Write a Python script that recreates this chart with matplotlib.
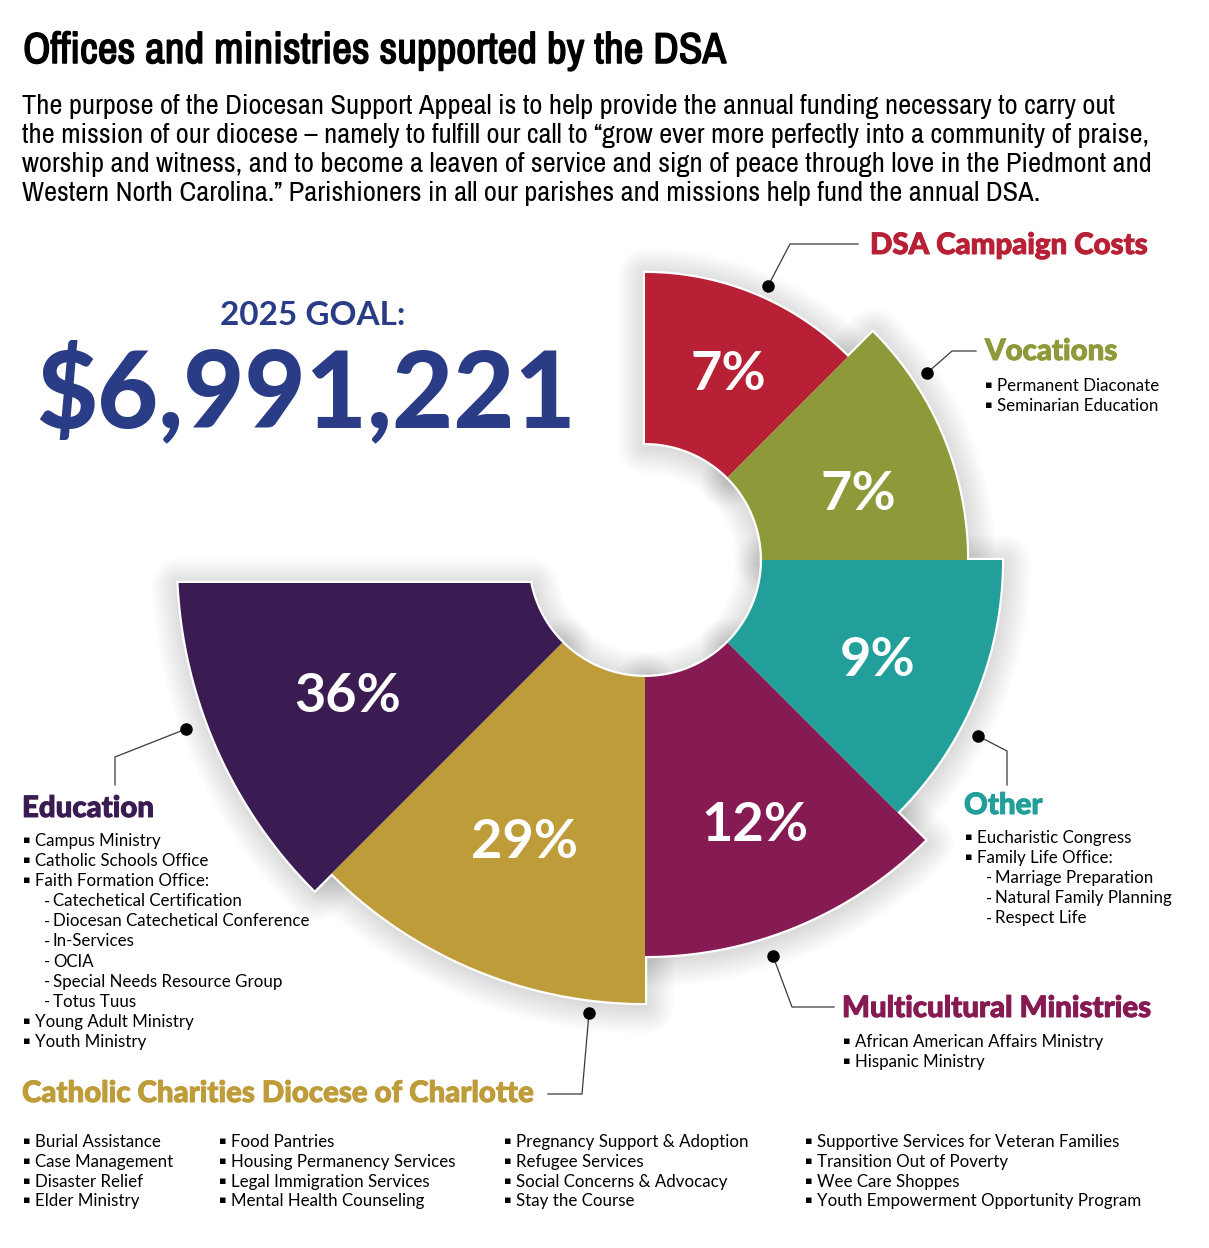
import numpy as np
import matplotlib
matplotlib.use('Agg')
import matplotlib.pyplot as plt
import matplotlib.patheffects as pe
from matplotlib.patches import Polygon
from matplotlib import font_manager as fm

W, H = 1209, 1248

# ---- data: slices clockwise from 12 o'clock ----
categories = ['DSA Campaign Costs', 'Vocations', 'Other', 'Multicultural Ministries',
              'Catholic Charities Diocese of Charlotte', 'Education']
shares = [7, 7, 9, 12, 29, 36]
outer_r = [287, 322, 357, 396, 443, 467]      # outer radius of each slice (px)
colors = ['#B82035', '#8E993A', '#239F9B', '#861A52', '#BF9C3A', '#3A1C53']

goal_year = 2025
goal_amount = 6991221

title = 'Offices and ministries supported by the DSA'
intro = ['The purpose of the Diocesan Support Appeal is to help provide the annual funding necessary to carry out',
         'the mission of our diocese \u2013 namely to fulfill our call to \u201cgrow ever more perfectly into a community of praise,',
         'worship and witness, and to become a leaven of service and sign of peace through love in the Piedmont and',
         'Western North Carolina.\u201d Parishioners in all our parishes and missions help fund the annual DSA.']

# (level, text): level 0 = bullet, level 1 = dash sub-item
vocations_items = [(0, 'Permanent Diaconate'), (0, 'Seminarian Education')]
other_items = [(0, 'Eucharistic Congress'), (0, 'Family Life Office:'),
               (1, 'Marriage Preparation'), (1, 'Natural Family Planning'), (1, 'Respect Life')]
multi_items = [(0, 'African American Affairs Ministry'), (0, 'Hispanic Ministry')]
edu_items = [(0, 'Campus Ministry'), (0, 'Catholic Schools Office'), (0, 'Faith Formation Office:'),
             (1, 'Catechetical Certification'), (1, 'Diocesan Catechetical Conference'),
             (1, 'In-Services'), (1, 'OCIA'), (1, 'Special Needs Resource Group'), (1, 'Totus Tuus'),
             (0, 'Young Adult Ministry'), (0, 'Youth Ministry')]
charities_cols = [['Burial Assistance', 'Case Management', 'Disaster Relief', 'Elder Ministry'],
                  ['Food Pantries', 'Housing Permanency Services', 'Legal Immigration Services',
                   'Mental Health Counseling'],
                  ['Pregnancy Support & Adoption', 'Refugee Services', 'Social Concerns & Advocacy',
                   'Stay the Course'],
                  ['Supportive Services for Veteran Families', 'Transition Out of Poverty',
                   'Wee Care Shoppes', 'Youth Empowerment Opportunity Program']]

# ---- layout ----
cx, cy = 645, 560        # ring centre (px, y down)
r_in = 117
span = 45                # each slice covers 45 degrees, 270 in total
edu_cut = 23             # education slice top edge sits a bit below the centre line
label_ang = [65.8, 17.2, -23.3, -67.5, -113.0, -155.3]
label_rad = [203, 223, 253, 287, 307, 327]

# condensed face for title / intro, if one is installed
NARROW = {'family': ['Liberation Sans', 'DejaVu Sans']}
for f in fm.fontManager.ttflist:
    if 'narrow' in f.name.lower() or 'condensed' in f.name.lower():
        NARROW = {'family': [f.name, 'DejaVu Sans']}
        break
BODY = ['Lato', 'DejaVu Sans']
HEAVY = ['Lato Black', 'Lato Heavy', 'Lato', 'DejaVu Sans']

fig = plt.figure(figsize=(W / 100, H / 100), dpi=100)
ax = fig.add_axes([0, 0, 1, 1])
ax.set_xlim(0, W)
ax.set_ylim(H, 0)
ax.axis('off')
rend = fig.canvas.get_renderer()


def fit_size(txt, target_w, size, **kw):
    t = ax.text(0, 0, txt, fontsize=size, **kw)
    w = t.get_window_extent(renderer=rend).width
    t.remove()
    return size * target_w / w


def slice_verts(t0, t1, r0, r1, cut=0.0):
    a_out = np.radians(np.linspace(t0, t1 + np.degrees(np.arcsin(cut / r1)), 120))
    a_in = np.radians(np.linspace(t1 + np.degrees(np.arcsin(cut / r0)), t0, 60))
    xs = np.r_[cx + r1 * np.cos(a_out), cx + r0 * np.cos(a_in)]
    ys = np.r_[cy - r1 * np.sin(a_out), cy - r0 * np.sin(a_in)]
    return np.c_[xs, ys]


verts = []
for i, r in enumerate(outer_r):
    t0 = 90 - span * i
    t1 = t0 - span
    cut = edu_cut if categories[i] == 'Education' else 0.0
    verts.append(slice_verts(t0, t1, r_in, r, cut))

# soft drop shadow
for v in verts:
    for lw in np.linspace(40, 3, 12):
        ax.add_patch(Polygon(v + [1, 3], closed=True, fc='none', ec='black',
                             lw=lw, alpha=0.012, joinstyle='round', zorder=1))
# white outline, then fills on top so only the outer contour stays white
for v, c in zip(verts, colors):
    ax.add_patch(Polygon(v, closed=True, fc=c, ec='white', lw=3.2, zorder=2))
for v, c in zip(verts, colors):
    ax.add_patch(Polygon(v, closed=True, fc=c, ec='none', zorder=3))

# percentage labels
for s, a, r in zip(shares, label_ang, label_rad):
    a = np.radians(a)
    ax.text(cx + r * np.cos(a), cy - r * np.sin(a), f'{s}%',
            color='white', fontsize=39, fontweight='bold', family=BODY,
            ha='center', va='center', zorder=5)

# title and intro
ts = fit_size(title, 704, 25, fontweight='bold', **NARROW)
ax.text(23, 63, title, fontsize=ts, fontweight='bold', va='baseline',
        path_effects=[pe.withStroke(linewidth=1.1, foreground='black')], **NARROW)
ps = fit_size(intro[0], 1091, 18, **NARROW)
for k, line in enumerate(intro):
    ax.text(22, 114 + 29 * k, line, fontsize=ps, va='baseline', **NARROW)

# goal
navy = '#293C85'
ax.text(313, 325, f'{goal_year} GOAL:', fontsize=24, fontweight='bold', color=navy,
        family=BODY, ha='center', va='baseline')
ax.text(306, 427, f'${goal_amount:,}', fontsize=76, fontweight='black', color=navy,
        family=BODY, ha='center', va='baseline')

hs = fit_size(categories[4], 513, 20, fontweight='black', family=HEAVY)


def heading(x, y, txt, c):
    ax.text(x, y, txt, fontsize=hs, fontweight='black', color=c, family=HEAVY, va='baseline',
            path_effects=[pe.withStroke(linewidth=0.7, foreground=c)])


def item_list(x, y, items, dy=20.1):
    for k, (lvl, txt) in enumerate(items):
        yy = y + dy * k
        if lvl == 0:
            ax.text(x + 2, yy - 3, '\u25aa', fontsize=8, family=['DejaVu Sans'],
                    ha='center', va='baseline')
            ax.text(x + 10, yy, txt, fontsize=12.2, family=BODY, va='baseline')
        else:
            ax.text(x + 19, yy, '-', fontsize=12.2, family=BODY, va='baseline')
            ax.text(x + 28, yy, txt, fontsize=12.2, family=BODY, va='baseline')


def leader(pts):
    pts = np.array(pts)
    ax.plot(pts[:, 0], pts[:, 1], color='#3a3a3a', lw=0.9, zorder=6)
    ax.plot(pts[0, 0], pts[0, 1], 'o', color='black', ms=8, zorder=7)


# DSA Campaign Costs
heading(870, 254, categories[0], colors[0])
leader([(768, 286), (790, 244), (858, 244)])
# Vocations
heading(985, 360, categories[1], colors[1])
leader([(927, 373), (952, 351), (976, 351)])
item_list(987, 391, vocations_items)
# Other
heading(964, 814, categories[2], colors[2])
leader([(978, 736), (1007, 751), (1007, 785)])
item_list(967, 843, other_items)
# Multicultural Ministries
heading(842, 1017, categories[3], colors[3])
leader([(773, 956), (792, 1007), (834, 1007)])
item_list(845, 1047, multi_items)
# Education
heading(22, 817, categories[5], colors[5])
leader([(186, 729), (115, 757), (115, 785)])
item_list(25, 846, edu_items)
# Catholic Charities
heading(22, 1102, categories[4], colors[4])
leader([(589, 1013), (582, 1094), (548, 1094)])
for col, x in zip(charities_cols, [25, 221, 506, 807]):
    item_list(x, 1147, [(0, t) for t in col], dy=19.8)

fig.savefig('out.png', dpi=100)
